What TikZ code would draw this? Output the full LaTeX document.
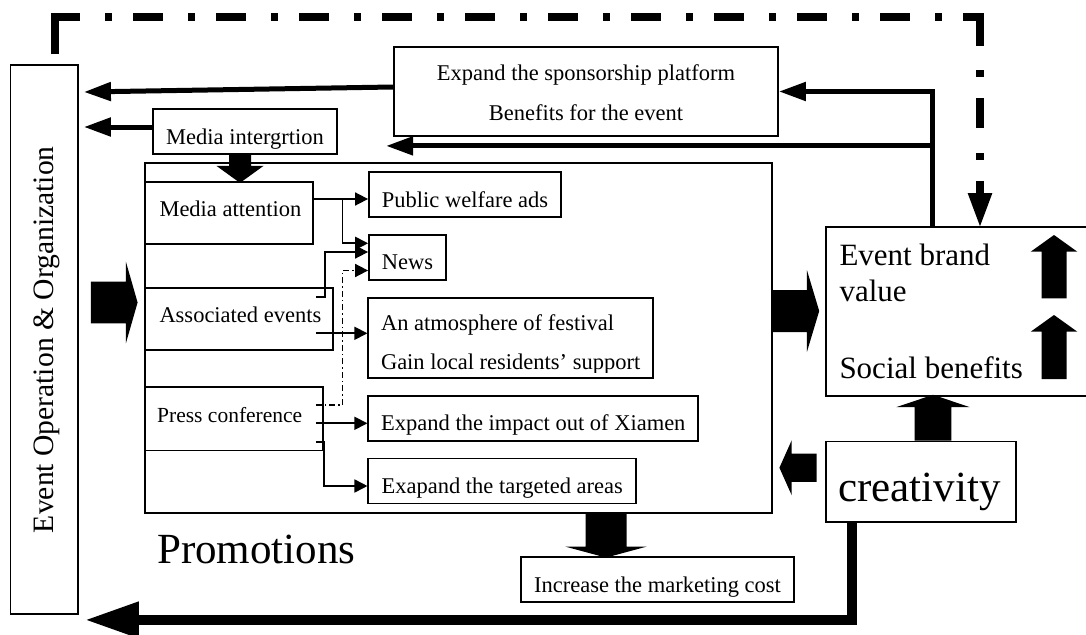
\documentclass[tikz,border=0pt]{standalone}
\usepackage{fontspec}
\setmainfont{Liberation Serif}
\usetikzlibrary{arrows.meta,calc}

% filled block arrow: start point, direction, length, head length, shaft half-width, head half-width
\newcommand{\fatarrow}[6]{%
  \fill[shift={#1}, rotate=#2] (0,-#5) -- ({#3-#4},-#5) -- ({#3-#4},-#6) -- (#3,0)
    -- ({#3-#4},#6) -- ({#3-#4},#5) -- (0,#5) -- cycle;}

\begin{document}
\begin{tikzpicture}[x=1pt, y=-1pt, line join=miter,
  frame/.style={draw, line width=1.8pt, inner sep=0pt},
  box/.style={frame, text height=35pt, text depth=10pt, font=\fontsize{22.5}{27}\selectfont},
  lbl/.style={inner sep=0pt, font=\fontsize{22.5}{27}\selectfont},
  mid/.style={inner sep=0pt, font=\fontsize{31}{37}\selectfont},
  big/.style={inner sep=0pt, font=\fontsize{43}{50}\selectfont},
  feed/.style={line width=5pt, -{Triangle[length=27pt,width=18pt]}},
  link/.style={line width=1.7pt, -{Triangle[length=13pt,width=13pt]}},
  linkdd/.style={link, dash pattern=on 6pt off 3pt on 1.5pt off 3pt},
  loopline/.style={line width=10pt, -{Triangle[length=54pt,width=34pt]}},
  dd/.style={line width=8pt, dash pattern=on 30pt off 25pt on 7pt off 21pt},
  ddsolid/.style={line width=8pt},
]
\fill[white] (0,0) rectangle (1086,634);
\useasboundingbox (0,0) rectangle (1086,634);

% ---- boxes ----
\node[frame, minimum width=67.5pt, minimum height=549pt] (ops) at (44.25,339.5) {};
\node[frame, minimum width=384pt, minimum height=89pt] (sponsor) at (586,91.5) {};
\node[box, minimum width=184pt] (media) at (245,131.5) {Media intergrtion};
\node[frame, minimum width=627pt, minimum height=350pt] (promo) at (458.5,338) {};
\node[frame, minimum width=168pt, minimum height=62pt] (ma) at (229,213) {};
\node[frame, minimum width=188.3pt, minimum height=61.7pt] (ae) at (239.2,319.2) {};
\node[frame, minimum width=178.3pt, minimum height=63.8pt] (pc) at (234.2,418.6) {};
\node[box, minimum width=192pt] (pwa) at (465,194.6) {Public welfare ads};
\node[box, minimum width=77pt] (news) at (407.5,257.2) {News};
\node[frame, minimum width=284.4pt, minimum height=80pt] (atm) at (510.5,337.7) {};
\node[box, minimum width=330pt] (xia) at (533.3,418.2) {Expand the impact out of Xiamen};
\node[box, minimum width=267.7pt] (tgt) at (502.2,481) {Exapand the targeted areas};
\node[box, minimum width=273pt] (inc) at (657.5,579.5) {Increase the marketing cost};
\node[frame, minimum width=266pt, minimum height=169pt] (brand) at (959,311.5) {};
\node[frame, minimum width=190pt, minimum height=80.5pt] (crea) at (921,481.75) {};

% ---- texts ----
\node[inner sep=0pt, rotate=90, anchor=base, font=\fontsize{29.6}{34}\selectfont] (ops-t)
  at (53.6,339.7) {Event Operation \& Organization};
\node[lbl, anchor=base] (sp-1) at (586,81) {Expand the sponsorship platform};
\node[lbl, anchor=base] (sp-2) at (586,120) {Benefits for the event};
\node[lbl, anchor=base west] (ma-t) at (159.3,216) {Media attention};
\node[lbl, anchor=base west] (ae-t) at (159.3,322.3) {Associated events};
\node[lbl, anchor=base west, font=\fontsize{21.5}{26}\selectfont] (pc-t) at (157,422) {Press conference};
\node[lbl, anchor=base west] (atm-1) at ($(atm.north west)+(13.4,34)$) {An atmosphere of festival};
\begin{scope}
  \clip (atm.north west) rectangle ($(atm.south east)+(0,-6)$);
  \node[lbl, anchor=base west] (atm-2) at ($(atm.north west)+(13.4,72.3)$) {Gain local residents’ support};
\end{scope}
\node[big, anchor=base west] (promo-t) at (157,563) {Promotions};
\node[big, anchor=base] (crea-t) at (919.5,501.7) {creativity};
\node[mid, anchor=base west] (brand-1) at (839.3,265) {Event brand};
\node[mid, anchor=base west] (brand-2) at (839.3,301.7) {value};
\node[mid, anchor=base west] (brand-3) at (839.3,378.3) {Social benefits};

% ---- dash-dot feedback from operation to brand value ----
\coordinate (ddtop) at (0,17.5);
\coordinate (ddstart) at ($(ops.north)+(10.75,-10)$);
\coordinate (ddend) at ($(brand.north)+(21,2)$);
\draw[ddsolid] (ddstart) |- ($(ddstart |- ddtop)+(25,0)$);
\draw[dd, dash phase=30pt] ($(ddstart |- ddtop)+(25,0)$) -- ($(ddend |- ddtop)+(-15,0)$);
\draw[ddsolid] ($(ddend |- ddtop)+(-15,0)$) -| ($(ddend |- ddtop)+(0,29)$);
\draw[dd, dash phase=31.5pt] ($(ddend |- ddtop)+(0,29)$) -- ($(ddend)+(0,-46)$);
\draw[ddsolid, -{Triangle[length=35pt,width=22pt]}] ($(ddend)+(0,-46)$) -- (ddend);

% ---- brand value back to sponsorship ----
\coordinate (tap) at ($(brand.north)+(-26.5,0)$);
\coordinate (spfree) at ($(sponsor.south west)+(-7,9)$);
\draw[feed] (tap) |- (sponsor.east);
\draw[feed] (tap |- spfree) -- (spfree);

% ---- into event operation ----
\draw[feed] ($(sponsor.west)+(0,-4.5)$) -- ($(ops.east)+(5,-247.5)$);
\draw[feed] ($(media.west)+(0,-4.5)$) -- ($(ops.east)+(5,-212.5)$);

% ---- creativity loop back to operation ----
\draw[loopline] ($(crea.south)+(-69,0)$) |- ($(ops.south east)+(6,5)$);

% ---- inner promotion links ----
\coordinate (mabr) at ($(ma.east)+(28.7,-14)$);
\draw[link] ($(ma.east)+(0,-14)$) -- ($(pwa.west)+(0,4.4)$);
\draw[link] (mabr) |- ($(news.west)+(0,-13.9)$);
\draw[link] ($(ae.east)+(-18.3,-22.5)$) -| ($(ae.east)+(-9.3,-67.2)$) -- ($(news.west)+(0,-5.2)$);
\draw[link] ($(ae.east)+(-18.3,14.1)$) -- ($(atm.west)+(0,-4.4)$);
\draw[linkdd] ($(pc.east)+(-8.3,-13.6)$) -| ($(mabr |- news.west)+(0,13.3)$) -- ($(news.west)+(0,13.3)$);
\draw[link] ($(pc.east)+(-8.3,4.7)$) -- ($(xia.west)+(0,5.1)$);
\draw[link] ($(pc.east)+(-8.3,23.1)$) -- ($(pc.east)+(0,23.1)$) |- ($(tgt.west)+(0,5)$);

% ---- block arrows ----
\fatarrow{($(media.south)+(-5,0)$)}{-90}{28}{17}{11}{23.5}
\fatarrow{($(ops.east)+(12,-37)$)}{0}{46.7}{11.7}{20.8}{40.8}
\fatarrow{($(promo.east)+(0,-27)$)}{0}{46.3}{12.3}{21}{41}
\fatarrow{($(crea.west)+(-8.4,-14)$)}{180}{37.3}{12.3}{14.2}{27.5}
\fatarrow{($(crea.north)+(12,0)$)}{90}{45.8}{12.3}{18.3}{36.7}
\fatarrow{($(promo.south)+(147.5,0)$)}{-90}{43.7}{11}{20.5}{40.7}
\fatarrow{($(brand.center)+(95,-13.2)$)}{90}{63.3}{16.7}{12.5}{23.3}
\fatarrow{($(brand.center)+(95,67.5)$)}{90}{64}{16.7}{12.5}{23.3}
\end{tikzpicture}
\end{document}
